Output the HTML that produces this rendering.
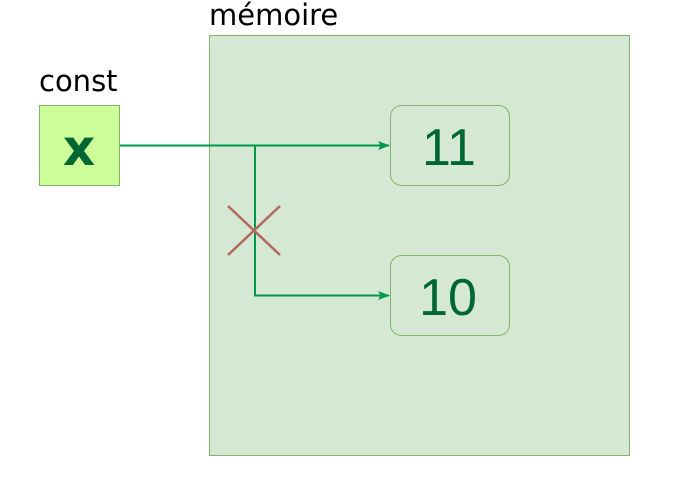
<!DOCTYPE html>
<html><head><meta charset="utf-8"><style>
html,body{margin:0;padding:0;background:#fff;width:676px;height:493px;overflow:hidden}
text{font-family:"DejaVu Sans","Liberation Sans",sans-serif}
text.num{font-family:"Liberation Sans","DejaVu Sans",sans-serif}
</style></head><body>
<svg width="676" height="493" viewBox="0 0 676 493">
<defs><marker id="ah" markerWidth="12" markerHeight="10" refX="11" refY="5" orient="auto" markerUnits="userSpaceOnUse"><path d="M0,0.5 L12,5 L0,9.5 L2.5,5 Z" fill="#00994d"/></marker></defs>
<text x="209" y="25" font-size="29" fill="#000">mémoire</text>
<rect x="209.5" y="35.5" width="420" height="420" fill="#d5e8d4" stroke="#82b366"/>
<text x="39" y="91" font-size="29" fill="#000">const</text>
<rect x="39.5" y="105.5" width="80" height="80" fill="#ccff99" stroke="#82b366"/>
<text x="79" y="165" font-size="50" font-weight="bold" fill="#006633" text-anchor="middle">x</text>
<rect x="390.5" y="105.5" width="119" height="80" rx="11" fill="#d5e8d4" stroke="#82b366"/>
<text class="num" x="449" y="165" font-size="52" fill="#006633" text-anchor="middle">11</text>
<rect x="390.5" y="255.5" width="119" height="80" rx="11" fill="#d5e8d4" stroke="#82b366"/>
<text class="num" x="448" y="315" font-size="52" fill="#006633" text-anchor="middle">10</text>
<path d="M120,145.5 L389,145.5" stroke="#00994d" stroke-width="2" fill="none" marker-end="url(#ah)"/>
<path d="M255,145.5 L255,295.5 L389,295.5" stroke="#00994d" stroke-width="2" fill="none" marker-end="url(#ah)"/>
<g stroke="#b0685a" stroke-width="2.5">
<line x1="228" y1="206" x2="280" y2="255"/><line x1="228" y1="255" x2="280" y2="206"/></g>
</svg>
</body></html>
